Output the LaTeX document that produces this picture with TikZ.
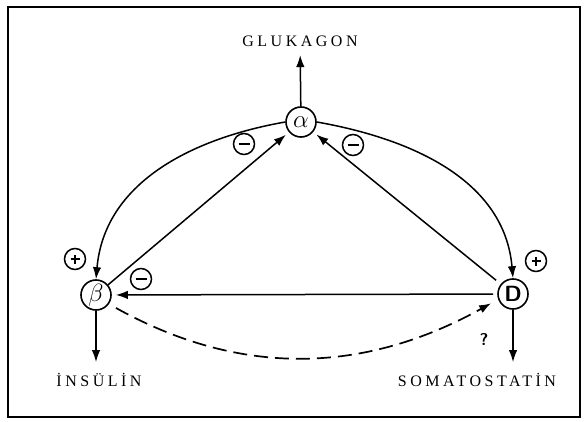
\documentclass[tikz,border=0pt]{standalone}
\usepackage{fontspec}
\setmainfont{Liberation Serif}
\newfontfamily\hormonefont[LetterSpace=22]{Liberation Serif}
\usetikzlibrary{arrows.meta, positioning}

\begin{document}
\begin{tikzpicture}[x=1pt, y=1pt,
    cell/.style={circle, draw, line width=1.6pt, minimum size=30pt, inner sep=0pt},
    hormone/.style={font=\fontsize{16}{18}\hormonefont, inner sep=3pt},
    sgn/.style={circle, draw, line width=1.5pt, minimum size=21pt, inner sep=0pt},
    minussign/.style={sgn, path picture={\draw[line width=2.6pt] ([xshift=-5.5pt]path picture bounding box.center) -- ([xshift=5.5pt]path picture bounding box.center);}},
    plussign/.style={sgn, path picture={\draw[line width=2.2pt] ([xshift=-4.5pt]path picture bounding box.center) -- ([xshift=4.5pt]path picture bounding box.center) ([yshift=-4.5pt]path picture bounding box.center) -- ([yshift=4.5pt]path picture bounding box.center);}},
    arr/.style={-{Latex[length=12pt, width=8.5pt]}, line width=1.5pt},
    darr/.style={arr, dash pattern=on 14pt off 7pt, line width=1.7pt}
]
\useasboundingbox (0,0) rectangle (586,421);
\draw[line width=1.6pt] (8,4) rectangle (580,414);

\node[cell, font=\fontsize{27}{27}\selectfont] (alpha) at (301,299) {$\alpha$};
\node[cell, font=\fontsize{24}{24}\selectfont] (beta) at (96,126) {$\beta$};
\node[cell, font=\fontsize{22}{22}\selectfont\sffamily\bfseries] (delta) at (513,127) {D};
\node[hormone] (glu) at (300,379.5) {GLUKAGON};
\node[hormone] (ins) at (99,41) {İNSÜLİN};
\node[hormone] (soma) at (477,41) {SOMATOSTATİN};

\node[minussign] (mleft) at (244,277) {};
\node[minussign] (mright) at (353,276) {};
\node[minussign] (mbeta) at (141,142) {};
\node[plussign] (pleft) at (75,162) {};
\node[plussign] (pright) at (536,160) {};
\node[font=\sffamily\bfseries\fontsize{17}{18}\selectfont] (q) at (484,81) {?};

\draw[arr, shorten >=5pt] (alpha) -- (glu);
\draw[arr, shorten >=8pt] (beta) -- (beta |- ins.north);
\draw[arr, shorten >=8pt] (delta) -- (delta |- soma.north);
\draw[arr] (alpha.west) to[out=190, in=85] (beta.north);
\draw[arr] (alpha.east) to[out=-10, in=95] (delta.north);
\draw[arr, shorten >=4pt] (beta) -- (alpha);
\draw[arr, shorten <=6pt, shorten >=4pt] (delta) -- (alpha);
\draw[arr, shorten <=4pt, shorten >=4pt] (delta) -- (beta);
\draw[darr, shorten <=8pt, shorten >=8pt] (beta.-35) to[out=-29, in=209] (delta.200);
\end{tikzpicture}
\end{document}
